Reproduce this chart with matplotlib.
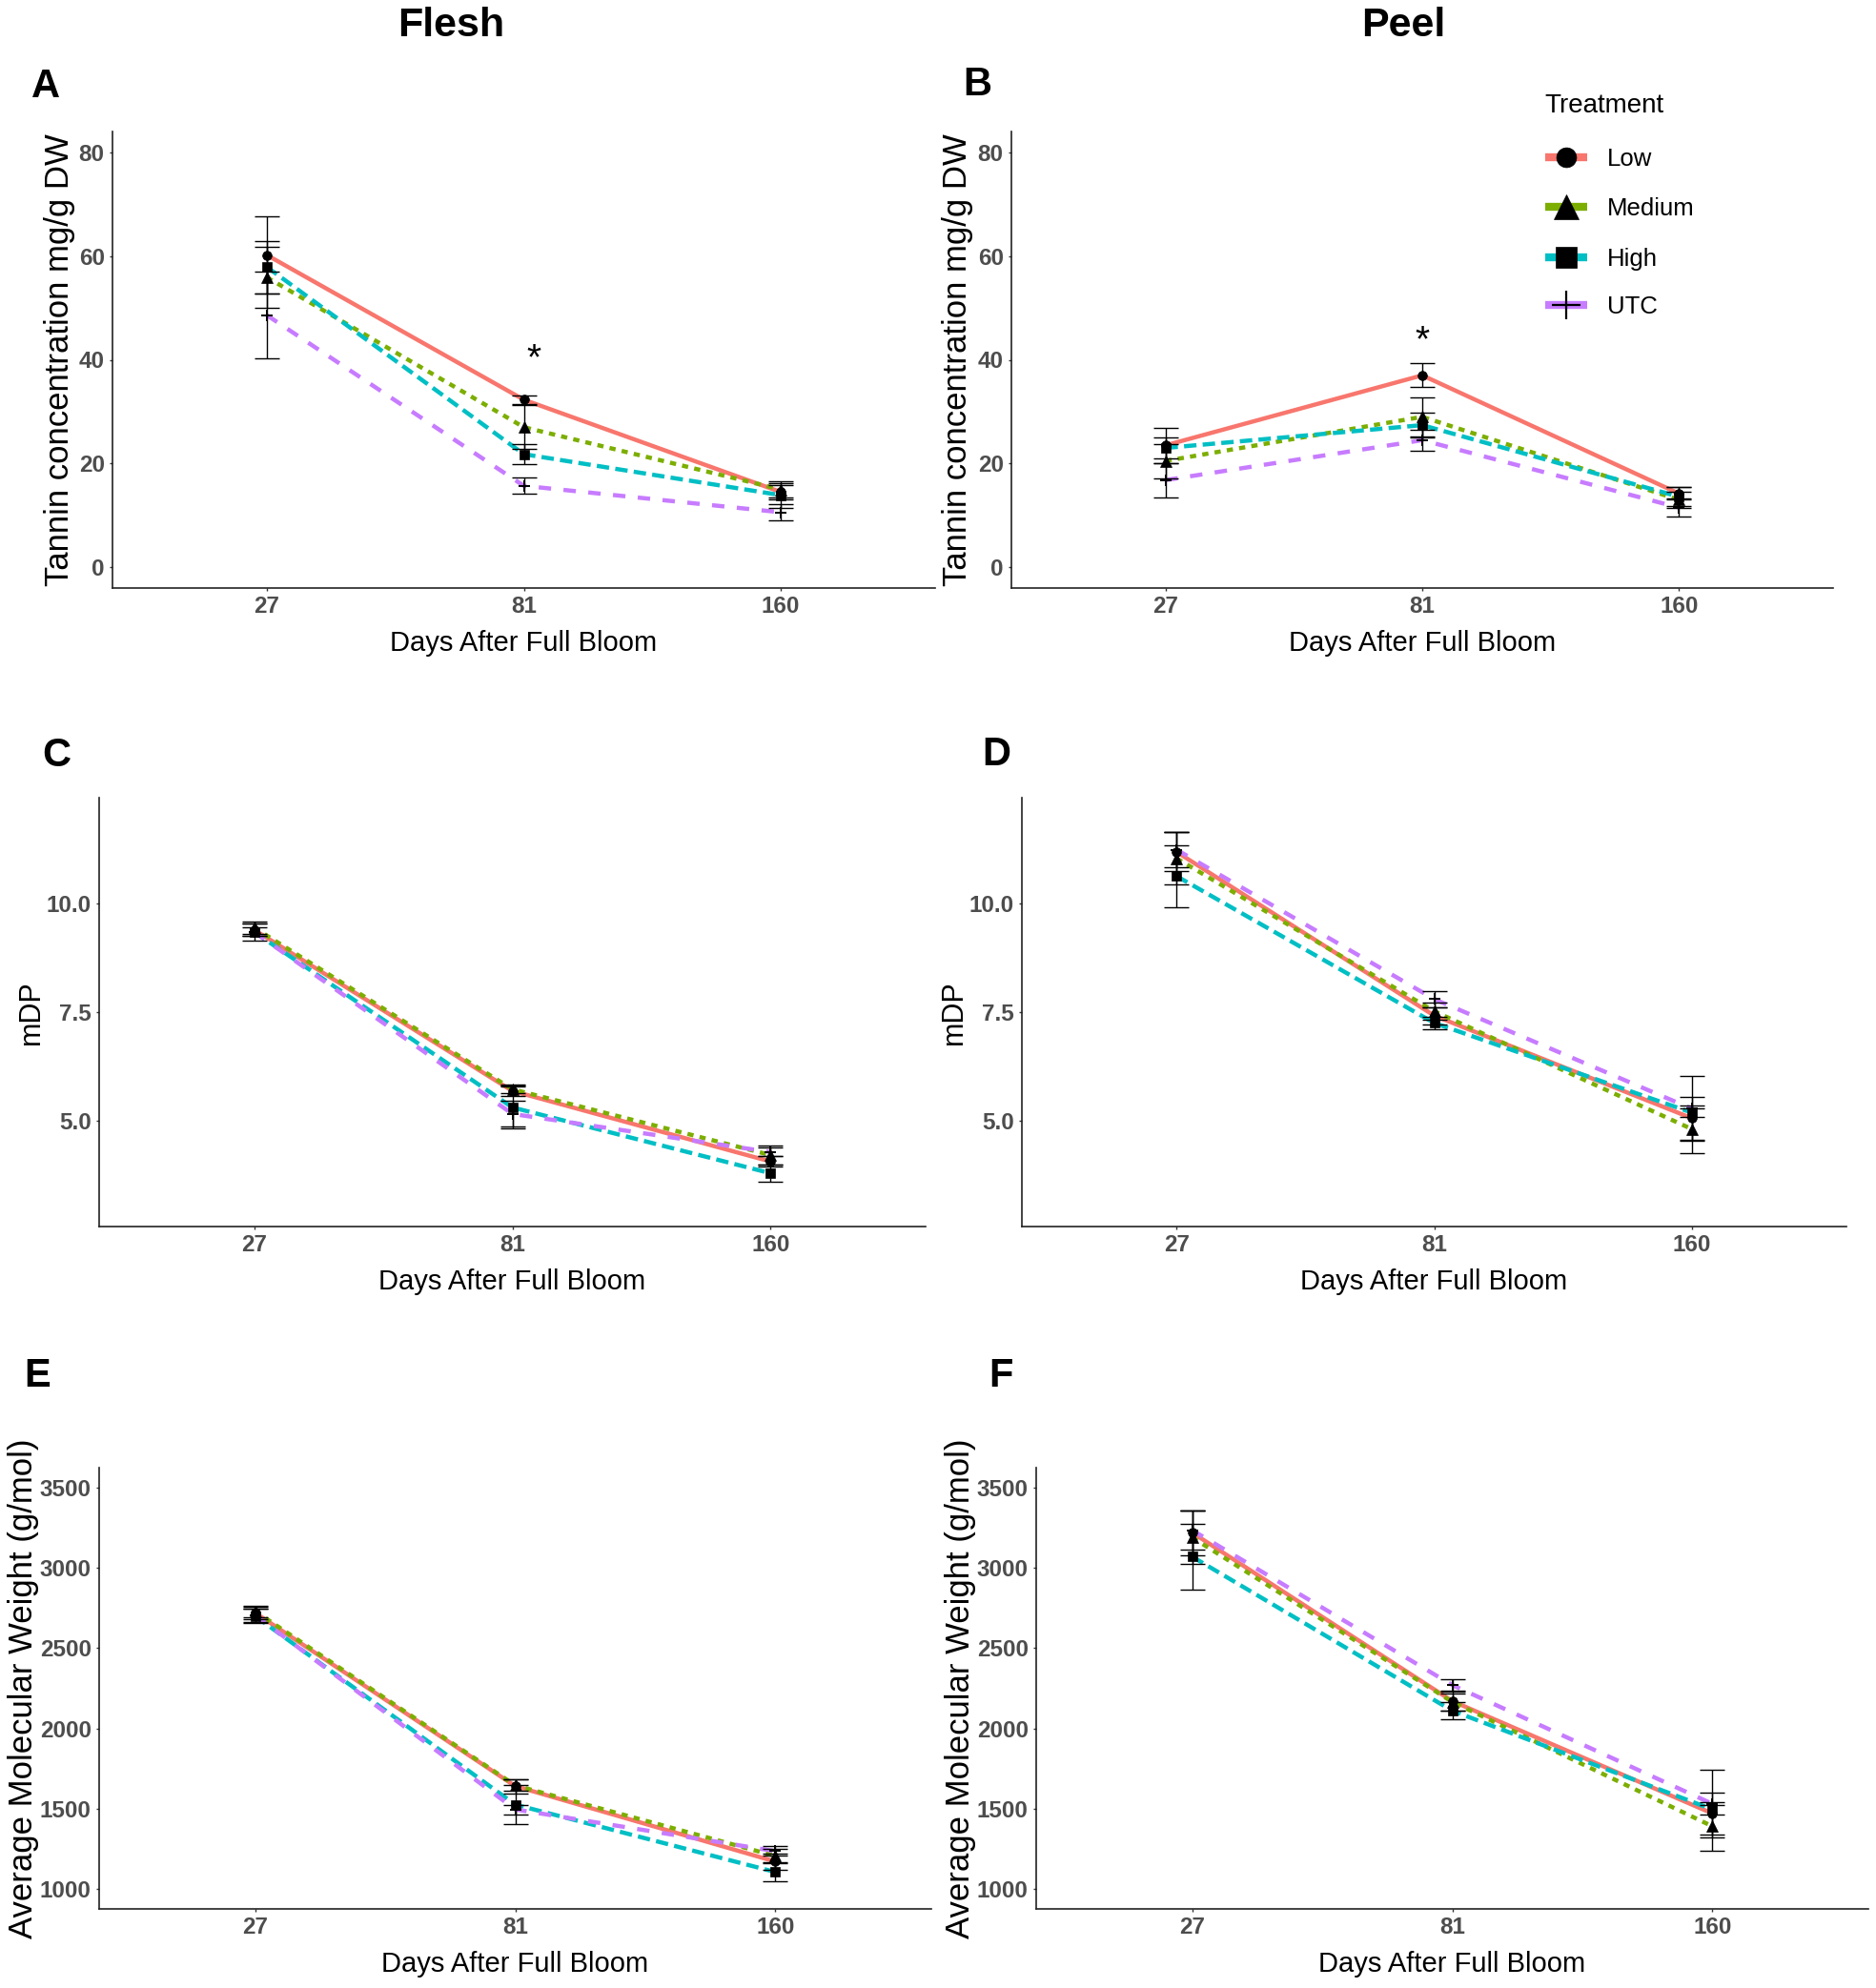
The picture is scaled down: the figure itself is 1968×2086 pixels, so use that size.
import matplotlib
matplotlib.use("Agg")
import matplotlib.pyplot as plt
from matplotlib.lines import Line2D

plt.rcParams['font.family'] = ['Liberation Sans', 'DejaVu Sans']
plt.rcParams['lines.scale_dashes'] = False

# ---------------- data ----------------
days = ['27', '81', '160']
treatments = ['Low', 'Medium', 'High', 'UTC']

# A: Flesh tannin (mg/g DW)
tannin_flesh_low = [60.2, 32.3, 14.5]
tannin_flesh_low_se = [7.5, 0.8, 1.4]
tannin_flesh_medium = [55.9, 27.0, 15.0]
tannin_flesh_medium_se = [5.9, 4.2, 1.6]
tannin_flesh_high = [57.9, 21.8, 13.9]
tannin_flesh_high_se = [5.05, 1.9, 2.4]
tannin_flesh_utc = [48.6, 15.7, 10.6]
tannin_flesh_utc_se = [8.4, 1.6, 1.5]

# B: Peel tannin
tannin_peel_low = [23.5, 37.0, 14.2]
tannin_peel_low_se = [3.4, 2.3, 1.2]
tannin_peel_medium = [20.5, 29.0, 13.0]
tannin_peel_medium_se = [3.3, 3.7, 1.5]
tannin_peel_high = [23.0, 27.4, 13.6]
tannin_peel_high_se = [2.0, 2.4, 1.8]
tannin_peel_utc = [16.8, 24.5, 11.5]
tannin_peel_utc_se = [3.3, 2.0, 1.7]

# C: Flesh mDP
mdp_flesh_low = [9.40, 5.68, 4.05]
mdp_flesh_low_se = [0.15, 0.12, 0.12]
mdp_flesh_medium = [9.45, 5.72, 4.20]
mdp_flesh_medium_se = [0.15, 0.10, 0.22]
mdp_flesh_high = [9.35, 5.30, 3.78]
mdp_flesh_high_se = [0.10, 0.48, 0.20]
mdp_flesh_utc = [9.35, 5.15, 4.27]
mdp_flesh_utc_se = [0.20, 0.30, 0.10]

# D: Peel mDP
mdp_peel_low = [11.20, 7.42, 5.05]
mdp_peel_low_se = [0.45, 0.20, 0.50]
mdp_peel_medium = [11.05, 7.52, 4.80]
mdp_peel_medium_se = [0.60, 0.20, 0.55]
mdp_peel_high = [10.64, 7.25, 5.18]
mdp_peel_high_se = [0.72, 0.15, 0.10]
mdp_peel_utc = [11.25, 7.80, 5.27]
mdp_peel_utc_se = [0.40, 0.18, 0.75]

# E: Flesh average molecular weight (g/mol)
amw_flesh_low = [2720, 1640, 1170]
amw_flesh_low_se = [40, 45, 50]
amw_flesh_medium = [2730, 1645, 1205]
amw_flesh_medium_se = [35, 35, 45]
amw_flesh_high = [2700, 1525, 1105]
amw_flesh_high_se = [45, 120, 60]
amw_flesh_utc = [2705, 1495, 1235]
amw_flesh_utc_se = [40, 30, 30]

# F: Peel average molecular weight
amw_peel_low = [3220, 2170, 1470]
amw_peel_low_se = [140, 60, 130]
amw_peel_medium = [3190, 2165, 1390]
amw_peel_medium_se = [165, 55, 150]
amw_peel_high = [3070, 2110, 1495]
amw_peel_high_se = [205, 55, 30]
amw_peel_utc = [3235, 2270, 1530]
amw_peel_utc_se = [120, 35, 210]

# ---------------- styles ----------------
colors = {'Low': '#F8766D', 'Medium': '#7CAE00', 'High': '#00BFC4', 'UTC': '#C77CFF'}
linestyles = {'Low': '-', 'Medium': (0, (4.7, 4.7)), 'High': (0, (9.4, 4.7)), 'UTC': (0, (9.4, 9.4))}
markers = {'Low': 'o', 'Medium': '^', 'High': 's', 'UTC': '+'}
msizes = {'Low': 7, 'Medium': 8.5, 'High': 6.5, 'UTC': 9}

W, H = 1968, 2086
fig = plt.figure(figsize=(W / 100, H / 100), dpi=100)
fig.patch.set_facecolor('white')


def fx(px):
    return px / W


def fy(py):
    return 1 - py / H


def add_ax(left, right, top, bottom):
    return fig.add_axes([left / W, 1 - bottom / H, (right - left) / W, (bottom - top) / H])


panels = [
    dict(letter='A', rect=(118, 981, 138, 617),
         series={'Low': (tannin_flesh_low, tannin_flesh_low_se),
                 'Medium': (tannin_flesh_medium, tannin_flesh_medium_se),
                 'High': (tannin_flesh_high, tannin_flesh_high_se),
                 'UTC': (tannin_flesh_utc, tannin_flesh_utc_se)},
         ylim=(-4, 84), yticks=[0, 20, 40, 60, 80], yfmt='{:.0f}',
         ylabel='Tannin concentration mg/g DW', ylsize=25, ylx=63,
         letter_xy=(33, 102), star=(2.04, 38.2)),
    dict(letter='B', rect=(1061, 1923, 138, 617),
         series={'Low': (tannin_peel_low, tannin_peel_low_se),
                 'Medium': (tannin_peel_medium, tannin_peel_medium_se),
                 'High': (tannin_peel_high, tannin_peel_high_se),
                 'UTC': (tannin_peel_utc, tannin_peel_utc_se)},
         ylim=(-4, 84), yticks=[0, 20, 40, 60, 80], yfmt='{:.0f}',
         ylabel='Tannin concentration mg/g DW', ylsize=25, ylx=1005,
         letter_xy=(1010, 100), star=(2.0, 41.7)),
    dict(letter='C', rect=(104, 971, 837, 1287),
         series={'Low': (mdp_flesh_low, mdp_flesh_low_se),
                 'Medium': (mdp_flesh_medium, mdp_flesh_medium_se),
                 'High': (mdp_flesh_high, mdp_flesh_high_se),
                 'UTC': (mdp_flesh_utc, mdp_flesh_utc_se)},
         ylim=(2.55, 12.45), yticks=[5.0, 7.5, 10.0], yfmt='{:.1f}',
         ylabel='mDP', ylsize=22, ylx=33,
         letter_xy=(44, 804), star=None),
    dict(letter='D', rect=(1072, 1937, 837, 1287),
         series={'Low': (mdp_peel_low, mdp_peel_low_se),
                 'Medium': (mdp_peel_medium, mdp_peel_medium_se),
                 'High': (mdp_peel_high, mdp_peel_high_se),
                 'UTC': (mdp_peel_utc, mdp_peel_utc_se)},
         ylim=(2.55, 12.45), yticks=[5.0, 7.5, 10.0], yfmt='{:.1f}',
         ylabel='mDP', ylsize=22, ylx=1001,
         letter_xy=(1030, 803), star=None),
    dict(letter='E', rect=(104, 977, 1540, 2003),
         series={'Low': (amw_flesh_low, amw_flesh_low_se),
                 'Medium': (amw_flesh_medium, amw_flesh_medium_se),
                 'High': (amw_flesh_high, amw_flesh_high_se),
                 'UTC': (amw_flesh_utc, amw_flesh_utc_se)},
         ylim=(875, 3625), yticks=[1000, 1500, 2000, 2500, 3000, 3500], yfmt='{:.0f}',
         ylabel='Average Molecular Weight (g/mol)', ylsize=25, ylx=25,
         letter_xy=(25, 1455), star=None),
    dict(letter='F', rect=(1087, 1960, 1540, 2003),
         series={'Low': (amw_peel_low, amw_peel_low_se),
                 'Medium': (amw_peel_medium, amw_peel_medium_se),
                 'High': (amw_peel_high, amw_peel_high_se),
                 'UTC': (amw_peel_utc, amw_peel_utc_se)},
         ylim=(875, 3625), yticks=[1000, 1500, 2000, 2500, 3000, 3500], yfmt='{:.0f}',
         ylabel='Average Molecular Weight (g/mol)', ylsize=25, ylx=1007,
         letter_xy=(1037, 1455), star=None),
]

xpos = list(range(1, len(days) + 1))

for p in panels:
    left, right, top, bottom = p['rect']
    ax = add_ax(left, right, top, bottom)
    ax.set_facecolor('white')
    for t in treatments:
        vals, se = p['series'][t]
        ax.plot(xpos, vals, color=colors[t], linestyle=linestyles[t], lw=3.2,
                solid_capstyle='butt', dash_capstyle='butt', zorder=2)
    for t in treatments:
        vals, se = p['series'][t]
        ax.plot(xpos, vals, linestyle='none', marker=markers[t], color='black',
                ms=msizes[t], mew=1.4 if t == 'UTC' else 0.5, zorder=3)
        ax.errorbar(xpos, vals, yerr=se, fmt='none', ecolor='black',
                    elinewidth=1.0, capsize=9.7, capthick=1.0, zorder=4)
    ax.set_xlim(0.4, 3.6)
    ax.set_ylim(*p['ylim'])
    ax.set_xticks(xpos)
    ax.set_xticklabels(days, fontweight='bold')
    ax.set_yticks(p['yticks'])
    ax.set_yticklabels([p['yfmt'].format(v) for v in p['yticks']], fontweight='bold')
    ax.tick_params(axis='both', length=2.5, width=1.0, color='#333333',
                   labelsize=17.5, labelcolor='#4D4D4D')
    ax.tick_params(axis='x', pad=3)
    ax.tick_params(axis='y', pad=3.5)
    for s in ['top', 'right']:
        ax.spines[s].set_visible(False)
    for s in ['left', 'bottom']:
        ax.spines[s].set_linewidth(1.2)
        ax.spines[s].set_color('#222222')
    # axis labels
    fig.text(fx((left + right) / 2), fy(bottom + 66), 'Days After Full Bloom',
             ha='center', va='baseline', fontsize=21, color='black')
    fig.text(fx(p['ylx']), fy((top + bottom) / 2), p['ylabel'], rotation=90,
             ha='center', va='center', fontsize=p['ylsize'], color='black')
    # panel letter
    lx, ly = p['letter_xy']
    fig.text(fx(lx), fy(ly), p['letter'], ha='left', va='baseline',
             fontsize=30, fontweight='bold', color='black')
    if p['star'] is not None:
        ax.text(p['star'][0], p['star'][1], '*', ha='center', va='baseline',
                fontsize=28, color='black')

# column titles
fig.text(fx(473), fy(38), 'Flesh', ha='center', va='baseline', fontsize=31, fontweight='bold')
fig.text(fx(1472), fy(38), 'Peel', ha='center', va='baseline', fontsize=31, fontweight='bold')

# legend (drawn in panel B area)
fig.text(fx(1620), fy(118), 'Treatment', ha='left', va='baseline', fontsize=20)
leg_y = {'Low': 165, 'Medium': 217, 'High': 270, 'UTC': 320}
leg_ms = {'Low': 15, 'Medium': 19, 'High': 16, 'UTC': 22}
for t in treatments:
    y = leg_y[t]
    fig.add_artist(Line2D([fx(1621), fx(1665)], [fy(y), fy(y)], transform=fig.transFigure,
                          color=colors[t], lw=6, solid_capstyle='butt'))
    fig.add_artist(Line2D([fx(1643)], [fy(y)], transform=fig.transFigure, linestyle='none',
                          marker=markers[t], color='black', ms=leg_ms[t],
                          mew=1.6 if t == 'UTC' else 0.5))
    fig.text(fx(1686), fy(y + 9), t, ha='left', va='baseline', fontsize=18.5)

fig.savefig('out.png', dpi=100, facecolor='white')
